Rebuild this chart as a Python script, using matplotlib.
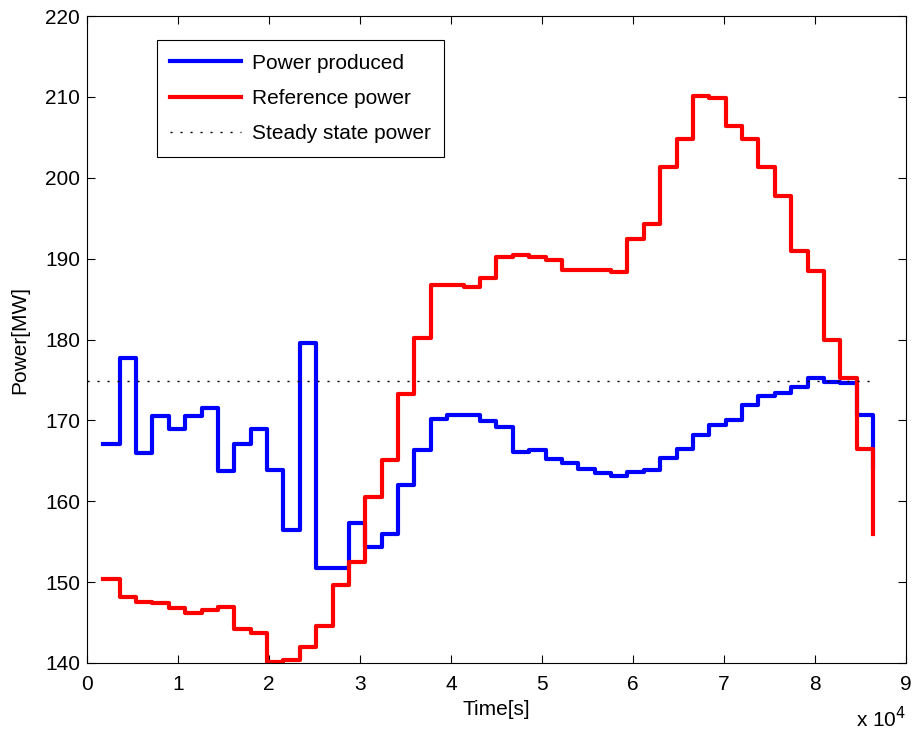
import numpy as np
import matplotlib
matplotlib.use('Agg')
import matplotlib.pyplot as plt
from matplotlib.ticker import FuncFormatter

matplotlib.rcParams.update({'font.size': 15, 'font.family': 'Liberation Sans'})

# half-hour samples over one day
dt = 1800
n_steps = 48
t = dt * np.arange(1, n_steps + 1)

p_produced = [167.1, 177.7, 166.0, 170.5, 168.9, 170.5, 171.5, 163.7,
              167.1, 168.9, 163.9, 156.5, 179.6, 151.7, 151.8, 157.3,
              154.3, 156.0, 162.0, 166.3, 170.2, 170.7, 170.7, 169.9,
              169.2, 166.1, 166.3, 165.2, 164.7, 164.0, 163.5, 163.1,
              163.6, 163.85, 165.3, 166.5, 168.2, 169.45, 170.1, 171.9,
              173.0, 173.4, 174.15, 175.2, 174.7, 174.65, 170.7, 164.3]

p_reference = [150.35, 148.2, 147.6, 147.4, 146.8, 146.2, 146.5, 146.9,
               144.25, 143.7, 140.1, 140.4, 142.0, 144.6, 149.6, 152.5,
               160.55, 165.1, 173.25, 180.25, 186.75, 186.75, 186.5, 187.6,
               190.15, 190.4, 190.15, 189.8, 188.65, 188.65, 188.65, 188.4,
               192.4, 194.35, 201.35, 204.75, 210.15, 209.9, 206.45, 204.75,
               201.35, 197.7, 191.0, 188.5, 180.0, 175.3, 166.5, 156.0]

p_steady = 174.9
t_steady = [0, 86400]

fig = plt.figure(figsize=(9.15, 7.33), dpi=100)
ax = fig.add_axes([0.095, 0.0955, 0.895, 0.8825])

ax.plot(t, p_produced, 'b-', drawstyle='steps-post', lw=3, label='Power produced')
ax.plot(t, p_reference, 'r-', drawstyle='steps-post', lw=3, label='Reference power')
ax.plot(t_steady, [p_steady, p_steady], color='k', lw=1,
        linestyle=(0, (1.5, 5.7)), label='Steady state power')

ax.set_xlim(0, 90000)
ax.set_ylim(140, 220)
ax.set_xticks(np.arange(0, 90001, 10000))
ax.set_yticks(np.arange(140, 221, 10))
ax.xaxis.set_major_formatter(FuncFormatter(lambda v, pos: '%d' % round(v / 1e4)))
ax.tick_params(direction='in', top=True, right=True, length=6, width=0.8)
ax.tick_params(axis='x', pad=9)
ax.tick_params(axis='y', pad=5)
for s in ax.spines.values():
    s.set_linewidth(0.8)

ax.set_xlabel('Time[s]', labelpad=4)
ax.set_ylabel('Power[MW]', labelpad=11)
fig.text(0.936, 0.008, r'x 10$^4$', fontsize=15)

leg = ax.legend(loc='upper left', bbox_to_anchor=(0.0855, 0.963), handlelength=3.4,
                handletextpad=0.5, fancybox=False, edgecolor='k', framealpha=1,
                borderpad=0.65, labelspacing=0.78, borderaxespad=0)
leg.get_frame().set_linewidth(0.8)

plt.savefig('out.png')
